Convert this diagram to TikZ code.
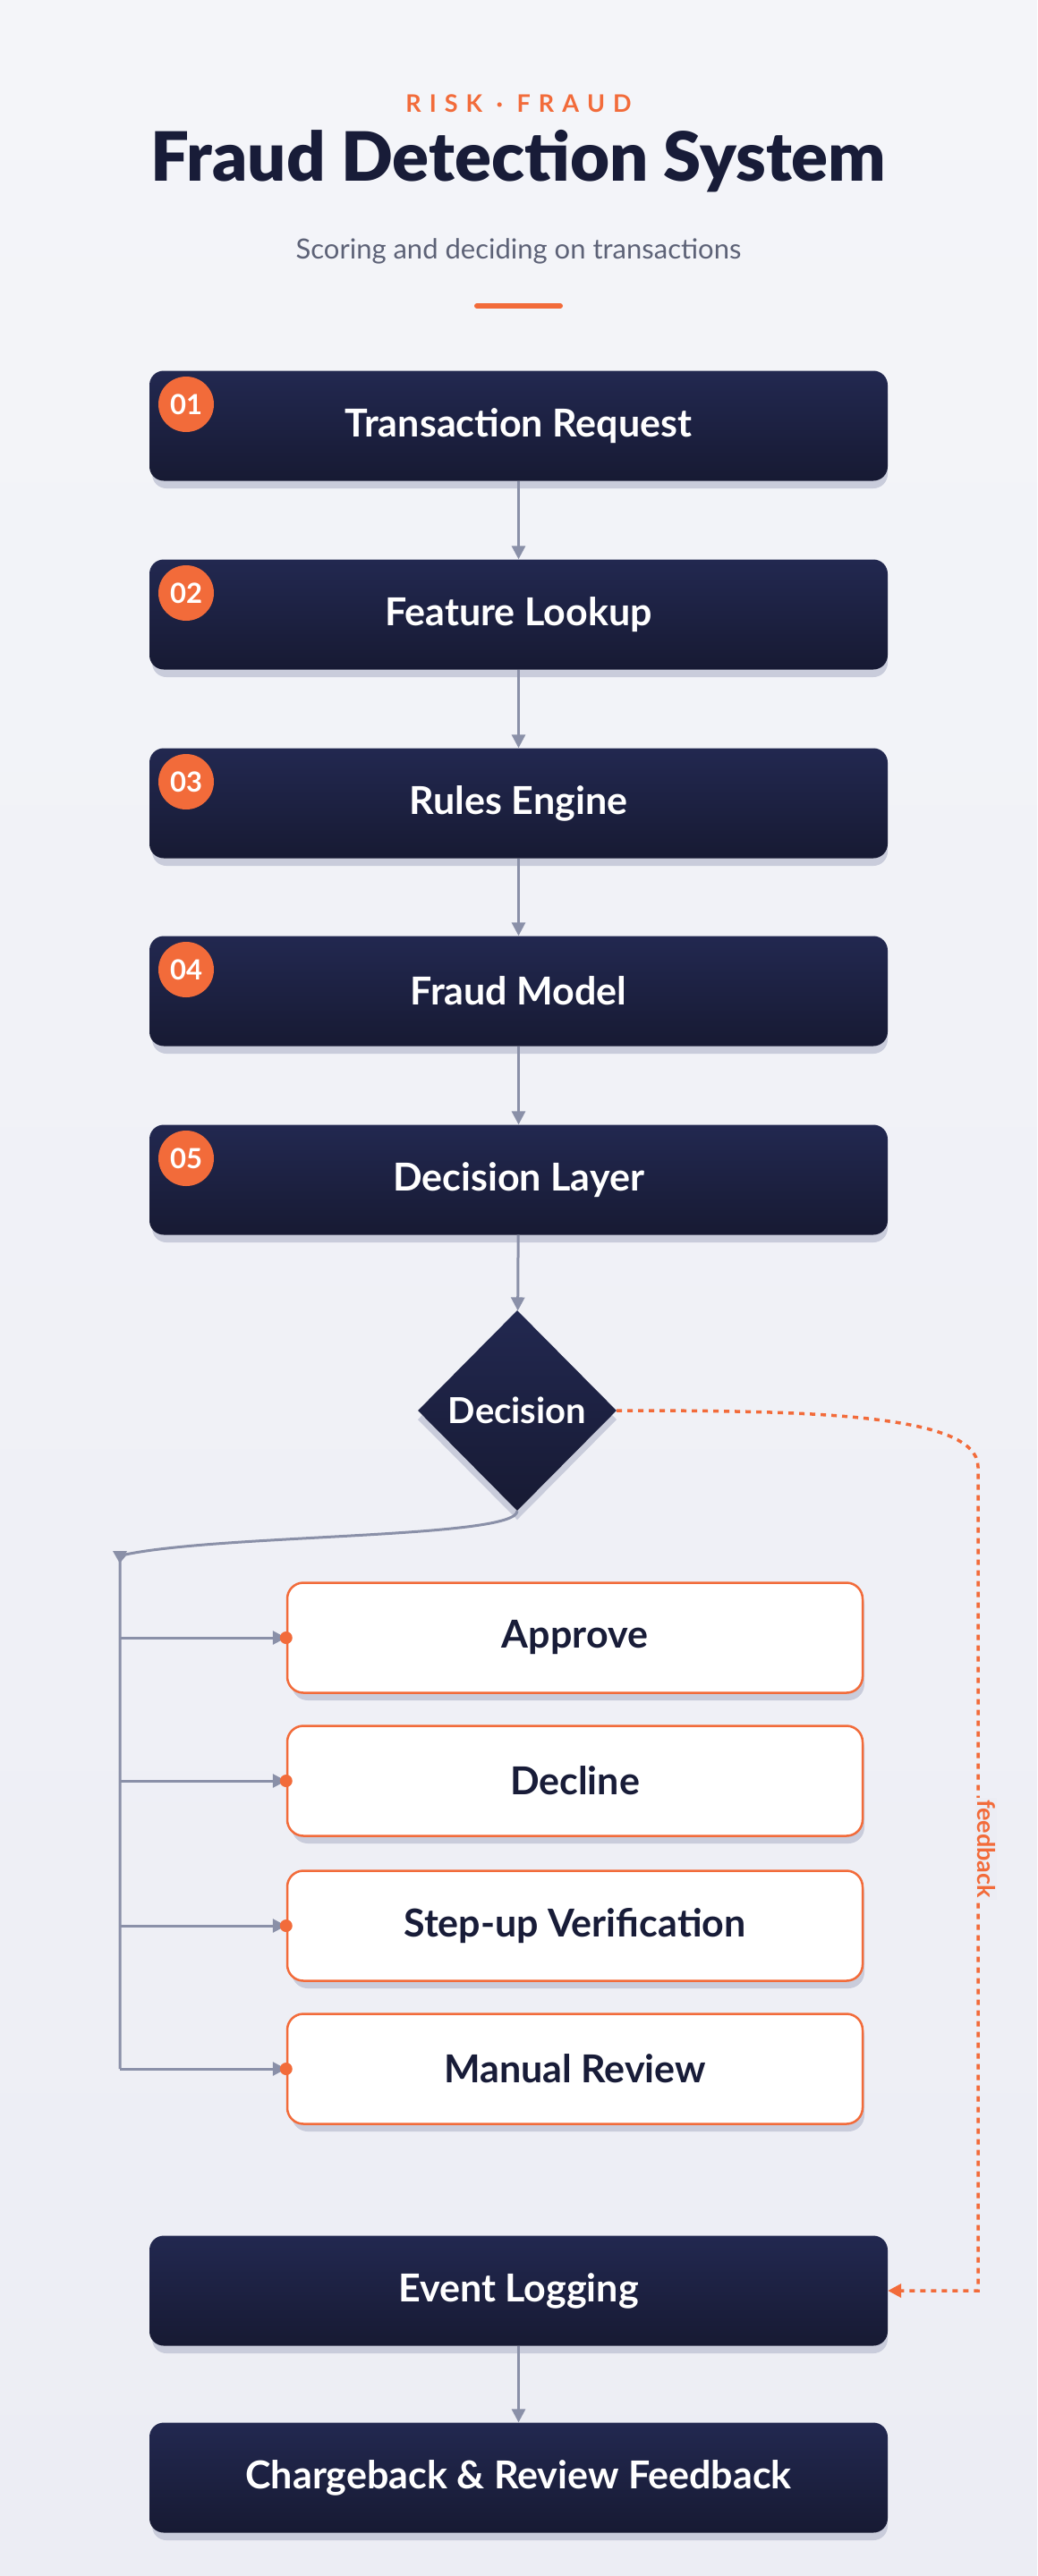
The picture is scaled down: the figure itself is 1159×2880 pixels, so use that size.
\documentclass[tikz,border=0pt]{standalone}
\usepackage{fontspec}
\setmainfont{Lato}
\newfontfamily\heavy{Lato Black}
\usetikzlibrary{arrows.meta,shapes.geometric,calc}
\definecolor{bgA}{HTML}{F4F5F9}
\definecolor{bgB}{HTML}{ECEDF4}
\definecolor{navyT}{HTML}{222850}
\definecolor{navyB}{HTML}{171A33}
\definecolor{ink}{HTML}{181C38}
\definecolor{org}{HTML}{F26B3A}
\definecolor{lin}{HTML}{8A90A8}
\definecolor{shd}{HTML}{C9CCDB}
\definecolor{sub}{HTML}{5D6277}
\begin{document}
\begin{tikzpicture}[x=1pt,y=-1pt,
  stepbox/.style={rounded corners=16pt,minimum width=825pt,minimum height=123pt,top color=navyT,bottom color=navyB,draw=none,text=white,font=\fontsize{43}{46}\selectfont\bfseries},
  opt/.style={rounded corners=18pt,minimum width=643pt,minimum height=123pt,fill=white,draw=org,line width=2.5pt,text=ink,font=\fontsize{43}{46}\selectfont\bfseries},
  badge/.style={circle,fill=org,minimum size=62pt,inner sep=0pt,text=white,font=\fontsize{31}{32}\selectfont\bfseries},
  flow/.style={draw=lin,line width=3pt,-{Triangle[width=15pt,length=15pt]}},
  fb/.style={draw=org,line width=3.5pt,dash pattern=on 6pt off 6pt,-{Triangle[width=15pt,length=15pt]}}]
\useasboundingbox (0,0) rectangle (1159,2880);
\shade[top color=bgA,bottom color=bgB] (0,0) rectangle (1159,2880);
\node (kick) at (579.5,116) {\fontsize{27}{28}\selectfont\bfseries\color{org}R\,\,I\,\,S\,\,K\,\, · \,\,F\,\,R\,\,A\,\,U\,\,D};
\node (title) at (579.5,180) {\fontsize{76}{80}\selectfont\heavy\color{ink}Fraud Detection System};
\node (subt) at (579.5,281) {\fontsize{31}{34}\selectfont\color{sub}Scoring and deciding on transactions};
\draw[org,line width=6pt,line cap=round] (533,342) -- (626,342);
% steps
\foreach \n/\y/\t in {1/476/Transaction Request,2/687/Feature Lookup,3/898/Rules Engine,4/1108/Fraud Model,5/1319/Decision Layer,6/2561/Event Logging,7/2770/Chargeback \& Review Feedback}{
  \fill[shd,rounded corners=16pt] (170,\y-52) rectangle (992,\y+70);
  \node[stepbox] (s\n) at (579.5,\y) {\t};
}
\foreach \n/\y in {1/476,2/687,3/898,4/1108,5/1319}{
  \node[badge] (b\n) at (208,\y-24) {0\n};
}
\foreach \a/\b in {1/2,2/3,3/4,4/5,6/7}{ \draw[flow] (s\a) -- (s\b); }
% decision
\fill[shd] (578,1475) -- (689,1587) -- (578,1699) -- (467,1587) -- cycle;
\node[diamond,minimum width=222pt,minimum height=224pt,inner sep=0pt,top color=navyT,bottom color=navyB,text=white,font=\fontsize{40}{42}\selectfont\bfseries] (dec) at (578,1577) {Decision};
\draw[flow] (s5) -- (dec);
% options
\coordinate (bus) at (134,1745);
\coordinate (busend) at (134,2313);
\draw[lin,line width=3pt] (dec.south) .. controls (578,1720) and (250,1715) .. (140,1738) -- (bus) -- (busend);
\fill[lin] (126,1734) -- (142,1734) -- (134,1748) -- cycle;
\foreach \n/\y/\t in {1/1831/Approve,2/1991/Decline,3/2153/Step-up Verification,4/2313/Manual Review}{
  \fill[shd,rounded corners=18pt] (326,\y-55) rectangle (966,\y+70);
  \node[opt] (o\n) at (642.5,\y) {\t};
  \coordinate (j\n) at (134,\y);
  \draw[flow] (j\n) -- (o\n.west);
  \fill[org] (o\n.west) circle (7pt);
}
% feedback
\coordinate (fb1) at (1093,1640);
\coordinate (fb2) at (1093,2561);
\draw[fb] (dec.east) .. controls (900,1577) and (1093,1580) .. (fb1) -- (fb2) -- (s6.east);
\node[rotate=-90,fill=bgB,inner sep=2pt,font=\fontsize{27}{28}\selectfont\bfseries,text=org] (fbl) at (1102,2067) {feedback};
\end{tikzpicture}
\end{document}
